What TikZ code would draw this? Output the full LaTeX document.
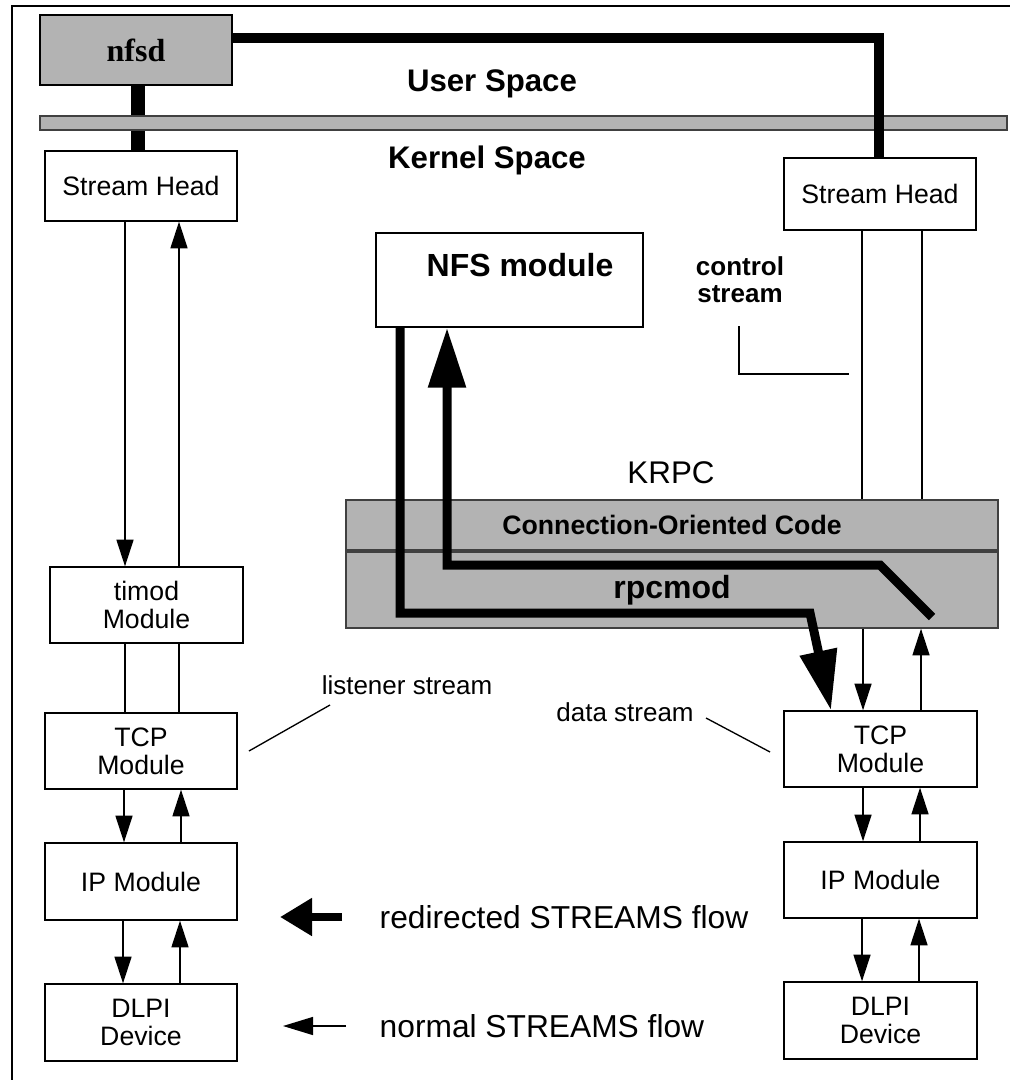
\documentclass[tikz,border=0pt]{standalone}
\usepackage{fontspec}
\setmainfont{Liberation Sans}
\newfontfamily\timesfont{Liberation Serif}
\usetikzlibrary{arrows.meta,calc}
\definecolor{panelgray}{HTML}{B3B3B3}

\begin{document}
\begin{tikzpicture}[x=0.75pt,y=-0.75pt,
  box/.style={draw=black,line width=1pt,fill=white,align=center,inner sep=0pt,
    font=\fontsize{20}{21}\selectfont},
  bar/.style={draw=black!75,line width=1pt,fill=panelgray,inner sep=0pt},
  wire/.style={line width=1pt},
  flow/.style={line width=1pt,-{Triangle[length=20pt,width=12.75pt]}},
  heavy/.style={line width=7.5pt},
  heavyflow/.style={line width=6.75pt,-{Triangle[length=45pt,width=27pt]}},
  lbl/.style={font=\fontsize{19.5}{21}\selectfont},
  boldlbl/.style={font=\bfseries\fontsize{19.5}{20}\selectfont,align=center},
  title/.style={font=\bfseries\fontsize{23.4}{26}\selectfont},
  legend/.style={anchor=west,font=\fontsize{23.8}{26}\selectfont}
]
\useasboundingbox (0,0) rectangle (1010,1080);

% outer frame
\draw[line width=1pt] (12,1080) -- (12,6) -- (1010,6);

% user-space daemon
\node[box,fill=panelgray,minimum width=144pt,minimum height=52.5pt,
  font=\timesfont\bfseries\fontsize{24}{26}\selectfont] (nfsd) at (136,50) {nfsd};

% nfsd down to the left stream head (passes under the boundary bar)
\node[box,minimum width=144pt,minimum height=52.5pt] (sh1) at (141,186) {Stream Head};
\draw[line width=10.5pt] (nfsd.south -| 138,0) -- (sh1.north -| 138,0);

% user / kernel boundary
\node[bar,minimum width=725.25pt,minimum height=10.5pt] (ubar) at (523.5,123) {};
\node[title] (user) at (492,84) {User Space};
\node[title] (kern) at (487,160) {Kernel Space};

% listener stream (left column)
\node[box,minimum width=144.75pt,minimum height=57pt] (tm) at (146.5,605) {timod\\Module};
\node[box,minimum width=144pt,minimum height=57pt] (tcp1) at (141,751) {TCP\\Module};
\node[box,minimum width=144pt,minimum height=57.75pt] (ip1) at (141,881.5) {IP Module};
\node[box,minimum width=144pt,minimum height=57.75pt] (dl1) at (141,1022.5) {DLPI\\Device};

% data stream (right column)
\node[box,minimum width=144pt,minimum height=54pt] (sh2) at (880,194) {Stream Head};
\node[box,minimum width=144.75pt,minimum height=57pt] (tcp2) at (880.5,749) {TCP\\Module};
\node[box,minimum width=144.75pt,minimum height=57pt] (ip2) at (880.5,880) {IP Module};
\node[box,minimum width=144.75pt,minimum height=57.75pt] (dl2) at (880.5,1020.5) {DLPI\\Device};

% NFS module
\node[box,minimum width=200.25pt,minimum height=70.5pt] (nfs) at (509.5,280) {};
\node[font=\bfseries\fontsize{24}{26}\selectfont] (nfslbl) at (520,265) {NFS module};

% KRPC layers
\node[lbl,font=\fontsize{23.5}{26}\selectfont] (krpc) at (671,473) {KRPC};
\node[bar,minimum width=489pt,minimum height=37.5pt,
  font=\bfseries\fontsize{20}{22}\selectfont] (coc) at (672,525) {Connection-Oriented Code};
\node[bar,minimum width=489pt,minimum height=57pt,
  font=\bfseries\fontsize{24}{26}\selectfont] (rpc) at (672,590) {rpcmod};

% control stream from nfsd (crosses over the boundary bar)
\draw[heavy] (nfsd.east |- 0,38) -- (879,38) -- (sh2.north -| 879,0);

% normal flows, left column
\draw[flow] (sh1.south -| 125,0) -- (tm.north -| 125,0);
\draw[flow] (tm.north -| 179,0) -- (sh1.south -| 179,0);
\draw[wire] (tm.south -| 125,0) -- (tcp1.north -| 125,0);
\draw[wire] (tm.south -| 179,0) -- (tcp1.north -| 179,0);
\draw[flow] (tcp1.south -| 124,0) -- (ip1.north -| 124,0);
\draw[flow] (ip1.north -| 181,0) -- (tcp1.south -| 181,0);
\draw[flow] (ip1.south -| 123,0) -- (dl1.north -| 123,0);
\draw[flow] (dl1.north -| 180,0) -- (ip1.south -| 180,0);

% normal flows, right column
\draw[wire] (sh2.south -| 862,0) -- (coc.north -| 862,0);
\draw[wire] (sh2.south -| 922,0) -- (coc.north -| 922,0);
\draw[flow] (rpc.south -| 863,0) -- (tcp2.north -| 863,0);
\draw[flow] (tcp2.north -| 921,0) -- (rpc.south -| 921,0);
\draw[flow] (tcp2.south -| 863,0) -- (ip2.north -| 863,0);
\draw[flow] (ip2.north -| 920,0) -- (tcp2.south -| 920,0);
\draw[flow] (ip2.south -| 862,0) -- (dl2.north -| 862,0);
\draw[flow] (dl2.north -| 919,0) -- (ip2.south -| 919,0);

% redirected flows through rpcmod
\draw[heavyflow] (nfs.south -| 400,0) -- (400,613) -- (810,613) -- (tcp2.north -| 831,0);
\coordinate (rpcin) at (932,617);
\draw[heavyflow] (rpcin) -- (880,565) -- (447,565) -- (nfs.south -| 447,0);

% stream labels and leaders
\node[boldlbl] (ctl) at (740,280) {control\\stream};
\draw[wire] (739,326) -- (739,374) -- (849,374);
\node[lbl] (lst) at (407,685) {listener stream};
\coordinate (lstA) at (249,751);
\coordinate (lstB) at (330,705);
\draw[wire] (lstA) -- (lstB);
\node[lbl] (dst) at (625,712) {data stream};
\coordinate (dstA) at (706,718);
\coordinate (dstB) at (770,752);
\draw[wire] (dstA) -- (dstB);

% legend
\coordinate (lgA) at (342,917);
\coordinate (lgB) at (280,917);
\draw[line width=6pt,-{Triangle[length=24pt,width=27pt]}] (lgA) -- (lgB);
\node[legend] (lg1) at (375,917) {redirected STREAMS flow};
\coordinate (lgC) at (346,1026);
\coordinate (lgD) at (283,1026);
\draw[line width=1pt,-{Triangle[length=22.5pt,width=13.5pt]}] (lgC) -- (lgD);
\node[legend] (lg2) at (375,1026) {normal STREAMS flow};
\end{tikzpicture}
\end{document}
